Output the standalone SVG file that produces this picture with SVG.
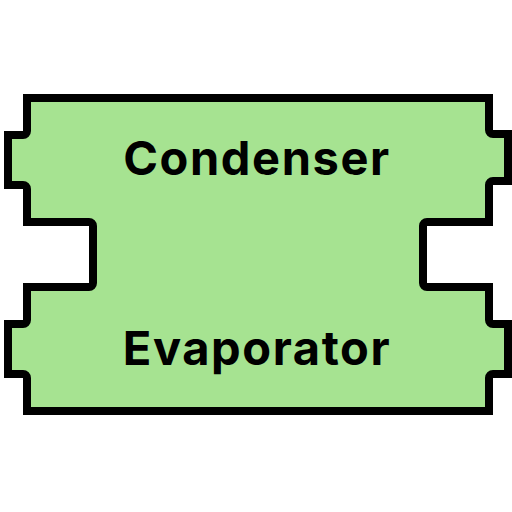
<svg xmlns="http://www.w3.org/2000/svg" width="512" height="512" viewBox="0 0 512 512">
<style>
.shape{fill:#a6e391;stroke:#000;stroke-width:8;stroke-linejoin:miter}
.lbl{font-family:Inter,"Noto Sans","Liberation Sans",sans-serif;font-weight:700;font-size:47px;letter-spacing:1.6px;fill:#000;text-anchor:middle}
</style>
<g id="device">
<path class="shape" d="M27,98 H489 V130 A4,4 0 0 0 493,134 H508 V181 H493 A4,4 0 0 0 489,185 V222 H427 A4,4 0 0 0 423,226 V283 A4,4 0 0 0 427,287 H489 V320 A4,4 0 0 0 493,324 H508 V374 H493 A4,4 0 0 0 489,378 V411 H27 V378 A4,4 0 0 0 23,374 H8 V324 H23 A4,4 0 0 0 27,320 V287 H89 A4,4 0 0 0 93,283 V226 A4,4 0 0 0 89,222 H27 V189 A4,4 0 0 0 23,185 H8 V135 H23 A4,4 0 0 0 27,131 Z"/>
<text class="lbl" x="257" y="175">Condenser</text>
<text class="lbl" x="257" y="365">Evaporator</text>
</g>
</svg>
